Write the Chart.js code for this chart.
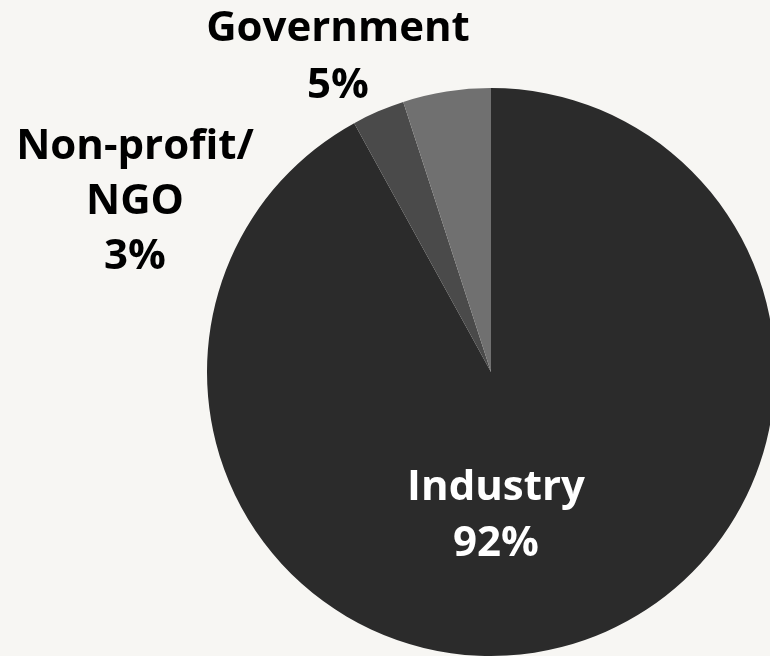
<!DOCTYPE html>
<html><head><meta charset="utf-8">
<script src="https://cdn.jsdelivr.net/npm/chart.js@4"></script>
<style>
html,body{margin:0;padding:0;background:#f7f6f3;overflow:hidden;width:770px;height:656px;}
#wrap{position:absolute;left:0;top:0;width:800px;height:700px;}
</style></head><body>
<div id="wrap"><canvas id="c" width="800" height="700"></canvas></div>
<script>
const categories = ["Industry", "Non-profit/\nNGO", "Government"];
const values = [92, 3, 5];
const colors = ["#2b2b2b", "#4a4a4a", "#707070"];

const labelPlugin = {
  id: 'labels',
  afterDraw(chart) {
    const ctx = chart.ctx;
    const meta = chart.getDatasetMeta(0);
    const arc0 = meta.data[0];
    const cx = arc0.x, cy = arc0.y;
    // offsets relative to pie centre (layout)
    const pos = [
      {dx: 5, dy: 144, lh: 56, color: '#ffffff'},
      {dx: -356, dy: -170, lh: 55, color: '#000000'},
      {dx: -153, dy: -314, lh: 57, color: '#000000'}
    ];
    ctx.save();
    ctx.font = 'bold 42px "Open Sans"';
    ctx.textAlign = 'center';
    ctx.textBaseline = 'middle';
    categories.forEach((c, i) => {
      const lines = c.split('\n').concat([values[i] + '%']);
      const lh = pos[i].lh;
      const y0 = cy + pos[i].dy - (lines.length - 1) * lh / 2;
      ctx.fillStyle = pos[i].color;
      lines.forEach((l, j) => ctx.fillText(l, cx + pos[i].dx, y0 + j * lh));
    });
    ctx.restore();
  }
};

new Chart(document.getElementById('c'), {
  type: 'pie',
  data: { labels: categories, datasets: [{ data: values, backgroundColor: colors, borderWidth: 0 }] },
  options: {
    responsive: false, animation: false,
    layout: { padding: { left: 207, right: 25, top: 88, bottom: 44 } },
    plugins: { legend: { display: false }, tooltip: { enabled: false } }
  },
  plugins: [labelPlugin]
});
</script></body></html>
